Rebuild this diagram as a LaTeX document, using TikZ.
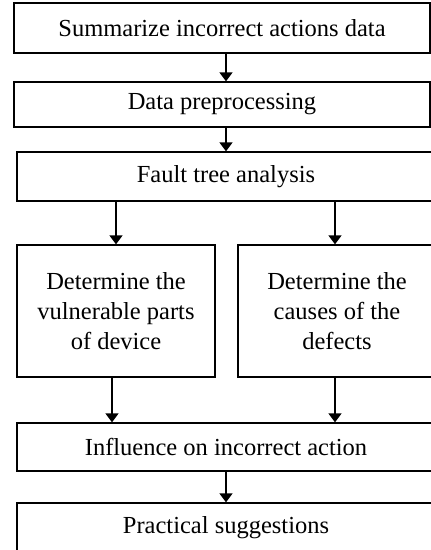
\documentclass[tikz,border=0pt]{standalone}
\usepackage{fontspec}
\setmainfont{Liberation Serif}
\usetikzlibrary{arrows.meta}
\tikzset{
  stepbox/.style={draw=black, line width=1.3pt, rectangle, inner sep=0pt,
    align=center, font=\fontsize{24.5}{30}\selectfont},
  arr/.style={line width=1.3pt, -{Triangle[width=13pt,length=9pt]}}
}
\begin{document}
\begin{tikzpicture}[x=1pt,y=-1pt]
\useasboundingbox (0,0) rectangle (431,550);
% main chain
\node[stepbox, minimum width=416pt, minimum height=50pt] (b1) at (222,28) {Summarize incorrect actions data};
\node[stepbox, minimum width=416pt, minimum height=45pt] (b2) at (222,104.5) {Data preprocessing};
\node[stepbox, minimum width=418pt, minimum height=49pt] (b3) at (226,176.5) {Fault tree analysis};
% two branches
\node[stepbox, minimum width=198pt, minimum height=132pt] (bl) at (116,311) {Determine the\\vulnerable parts\\of device};
\node[stepbox, minimum width=198pt, minimum height=132pt] (br) at (337,311) {Determine the\\causes of the\\defects};
% merge and conclusion
\node[stepbox, minimum width=418pt, minimum height=48pt] (b5) at (226,447) {Influence on incorrect action};
\node[stepbox, minimum width=418pt, minimum height=50pt] (b6) at (226,528) {Practical suggestions};
% connectors
\draw[arr] (b1.south -| 226,0) -- (b2.north -| 226,0);
\draw[arr] (b2.south -| 226,0) -- (b3.north -| 226,0);
\draw[arr] (b3.south -| bl.north) -- (bl.north);
\draw[arr] (b3.south -| 335,0) -- (br.north -| 335,0);
\draw[arr] (bl.south -| 112,0) -- (b5.north -| 112,0);
\draw[arr] (br.south -| 335,0) -- (b5.north -| 335,0);
\draw[arr] (b5.south -| 226,0) -- (b6.north -| 226,0);
\end{tikzpicture}
\end{document}
